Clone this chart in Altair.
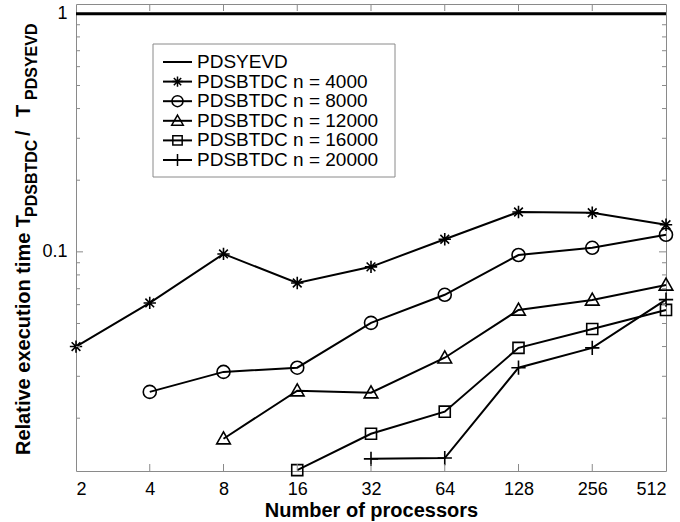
import altair as alt
import pandas as pd

# Number of processors (log2 axis)
procs = [2, 4, 8, 16, 32, 64, 128, 256, 512]

# Execution time of PDSBTDC relative to PDSYEVD
pdsyevd = [1.0] * 9
n4000 = [0.040, 0.061, 0.098, 0.074, 0.0865, 0.113, 0.147, 0.146, 0.130]
n8000 = [None, 0.0258, 0.0313, 0.0326, 0.0503, 0.066, 0.097, 0.104, 0.118]
n12000 = [None, None, 0.0164, 0.0261, 0.0256, 0.0359, 0.057, 0.0628, 0.0726]
n16000 = [None, None, None, 0.0121, 0.0172, 0.0213, 0.0395, 0.0474, 0.057]
n20000 = [None, None, None, None, 0.0135, 0.0136, 0.0326, 0.0395, 0.063]

series_names = [
    "PDSYEVD",
    "PDSBTDC n = 4000",
    "PDSBTDC n = 8000",
    "PDSBTDC n = 12000",
    "PDSBTDC n = 16000",
    "PDSBTDC n = 20000",
]
btdc_names = series_names[1:]

x_tick_values = [2, 4, 8, 16, 32, 64, 128, 256, 512]
y_label_values = [0.1, 1]
y_minor_ticks = [0.02, 0.03, 0.04, 0.05, 0.06, 0.07, 0.08, 0.09,
                 0.2, 0.3, 0.4, 0.5, 0.6, 0.7, 0.8, 0.9]
y_major_ticks = [0.1]

rows = []
for name, vals in zip(btdc_names, [n4000, n8000, n12000, n16000, n20000]):
    for p, v in zip(procs, vals):
        if v is not None:
            rows.append({"procs": p, "ratio": v, "series": name})
df = pd.DataFrame(rows)
ref = pd.DataFrame({"procs": procs, "ratio": pdsyevd})
legend_df = pd.DataFrame({"series": series_names})
legend_btdc = pd.DataFrame({"series": btdc_names})
one = pd.DataFrame({"k": [0]})

FONT = "Liberation Sans"
GRAY = "#8a8a8a"
W, H = 590, 467

# Marker outlines: asterisk, circle, triangle, square, plus
marker_paths = [
    "M0,-0.95L0,0.95M-0.95,0L0.95,0M-0.67,-0.67L0.67,0.67M-0.67,0.67L0.67,-0.67",
    "M1,0A1,1,0,1,1,-1,0A1,1,0,1,1,1,0Z",
    "M0,-1.05L1.05,0.8L-1.05,0.8Z",
    "M-0.85,-0.85L0.85,-0.85L0.85,0.85L-0.85,0.85Z",
    "M0,-1.1L0,1.1M-1.1,0L1.1,0",
]
shape_scale = alt.Scale(domain=btdc_names, range=marker_paths)

x_scale = alt.Scale(type="log", base=2, domain=[2, 512], nice=False)
y_scale = alt.Scale(type="log", domain=[0.012, 1.1], nice=False)

x_axis = alt.Axis(values=x_tick_values, format="d", title="Number of processors",
                  ticks=False, domain=False, grid=False,
                  labelFontSize=18, labelPadding=9, labelFont=FONT, labelColor="black",
                  titleFont=FONT, titleFontSize=20, titleFontWeight="bold",
                  titleColor="black", titlePadding=2)
y_axis = alt.Axis(values=y_label_values, format="~g", title=None,
                  ticks=False, domain=False, grid=False,
                  labelFontSize=18, labelPadding=9, labelFont=FONT, labelColor="black")

# Every layer carries the same x axis definition so the shared axis merges cleanly
X = alt.X("procs:Q", scale=x_scale, axis=x_axis)
Y = alt.Y("ratio:Q", scale=y_scale, axis=y_axis)
Yn = alt.Y("ratio:Q", scale=y_scale, axis=None)

ref_line = alt.Chart(ref).mark_line(color="black", strokeWidth=3).encode(x=X, y=Y)

lines = alt.Chart(df).mark_line(color="black", strokeWidth=2).encode(
    x=X, y=Yn, detail="series:N")

points = alt.Chart(df).mark_point(filled=False, color="black", strokeWidth=1.6,
                                  size=169, opacity=1).encode(
    x=X, y=Yn,
    shape=alt.Shape("series:N", scale=shape_scale, legend=None))

# Inward tick marks on all four sides
yminor = pd.DataFrame({"ratio": y_minor_ticks})
ymajor = pd.DataFrame({"ratio": y_major_ticks})
xticks = pd.DataFrame({"procs": x_tick_values[1:-1]})


def yticks(data, length):
    left = alt.Chart(data).mark_rule(color=GRAY, strokeWidth=1).encode(
        y=Yn, x=alt.value(0), x2=alt.value(length))
    right = alt.Chart(data).mark_rule(color=GRAY, strokeWidth=1).encode(
        y=Yn, x=alt.value(W - length), x2=alt.value(W))
    return [left, right]


xt_bottom = alt.Chart(xticks).mark_rule(color=GRAY, strokeWidth=1).encode(
    x=X, y=alt.value(H - 7), y2=alt.value(H))
xt_top = alt.Chart(xticks).mark_rule(color=GRAY, strokeWidth=1).encode(
    x=X, y=alt.value(0), y2=alt.value(7))

# Legend box drawn inside the plot, rows placed by a point scale
leg_y = alt.Y("series:N", scale=alt.Scale(type="point", domain=series_names,
                                           range=[58, 156], padding=0), axis=None)
leg_frame = alt.Chart(one).mark_rect(fill="white", stroke=GRAY, strokeWidth=1).encode(
    x=alt.value(77), x2=alt.value(319), y=alt.value(40), y2=alt.value(173))
leg_lines = alt.Chart(legend_df).mark_rule(color="black", strokeWidth=2).encode(
    y=leg_y, x=alt.value(87), x2=alt.value(116))
leg_marks = alt.Chart(legend_btdc).mark_point(filled=False, color="black",
                                              strokeWidth=1.5, size=121, opacity=1).encode(
    y=leg_y, x=alt.value(101.5),
    shape=alt.Shape("series:N", scale=shape_scale, legend=None))
leg_text = alt.Chart(legend_df).mark_text(align="left", baseline="middle", font=FONT,
                                          fontSize=19, color="black").encode(
    y=leg_y, x=alt.value(121), text="series:N")
legend = alt.layer(leg_frame, leg_lines, leg_marks, leg_text)


# Y-axis title with subscripts, written bottom to top
def vtext(txt, x, y, size):
    return alt.Chart(one).mark_text(text=txt, angle=270, align="left",
                                    baseline="alphabetic", font=FONT, fontSize=size,
                                    fontWeight="bold", color="black").encode(
        x=alt.value(x), y=alt.value(y))


ytitle = [
    vtext("Relative execution time T", -46, 451, 20),
    vtext("PDSBTDC", -39, 213, 16),
    vtext("/", -46, 132, 20),
    vtext("T", -46, 113, 20),
    vtext("PDSYEVD", -39, 96, 16),
]

chart = alt.layer(
    ref_line, lines, points,
    *yticks(yminor, 4), *yticks(ymajor, 7), xt_bottom, xt_top,
    legend, *ytitle,
).resolve_scale(
    y="independent"
).resolve_axis(
    y="independent"
).properties(
    width=W, height=H,
    autosize=alt.AutoSizeParams(type="none"),
    padding={"left": 76, "top": 4, "right": 14, "bottom": 51},
    background="white",
).configure_view(stroke=GRAY, strokeWidth=1)

chart.save("out.html", embed_options={"renderer": "svg", "actions": False})
